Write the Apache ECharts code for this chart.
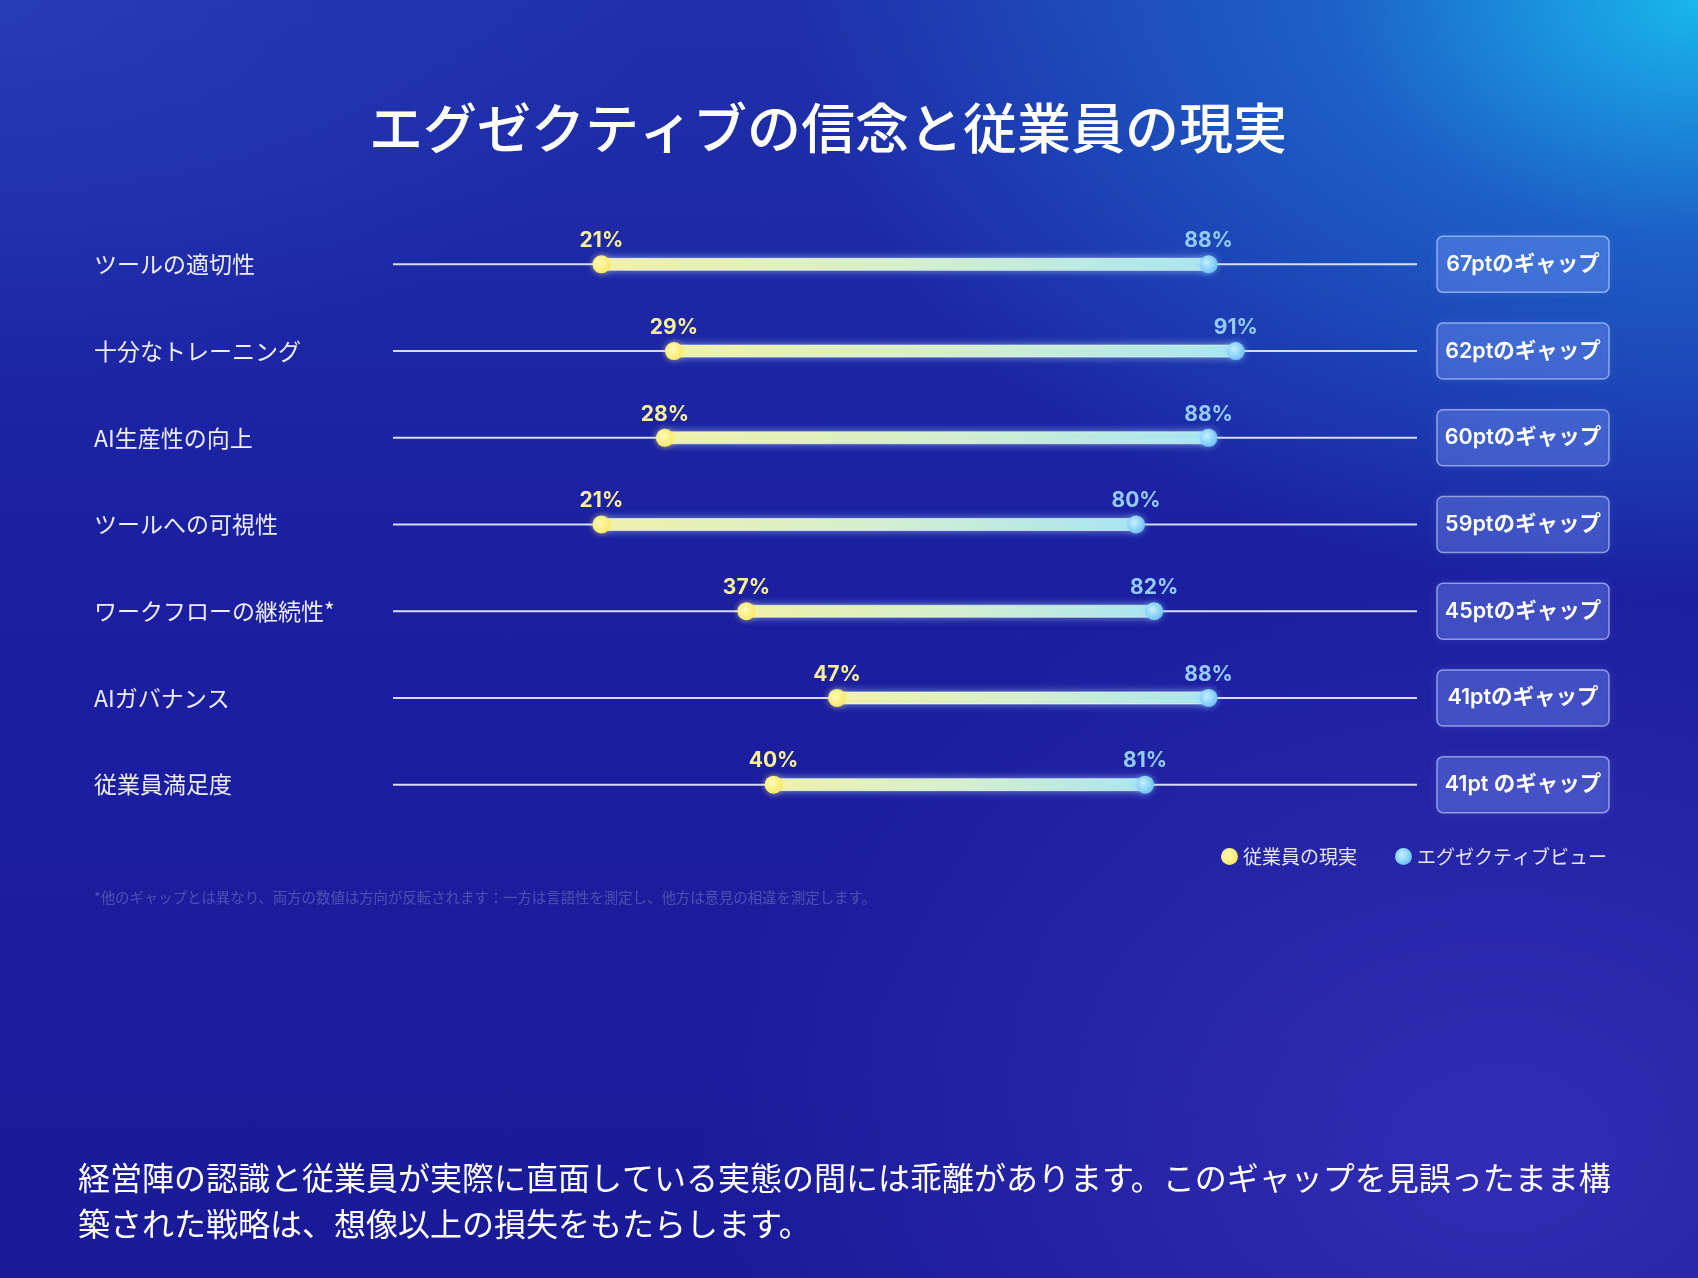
<!DOCTYPE html>
<html>
<head>
<meta charset="utf-8">
<script src="https://cdn.jsdelivr.net/npm/echarts@6/dist/echarts.min.js"></script>
<style>
  html, body { margin: 0; padding: 0; width: 1698px; height: 1278px; overflow: hidden; }
  body {
    background-color: #1b1d9f;
    background-image:
      radial-gradient(ellipse 900px 600px at 1698px 0px, rgba(24,190,240,0.95) 0%, rgba(28,130,220,0.6) 40%, rgba(27,29,159,0) 100%),
      radial-gradient(ellipse 650px 380px at 0px 0px, rgba(45,70,190,0.55) 0%, rgba(27,29,159,0) 100%),
      radial-gradient(ellipse 800px 600px at 1500px 1150px, rgba(70,60,200,0.55) 0%, rgba(27,29,159,0) 100%),
      linear-gradient(180deg, #1f30aa 0%, #1b1fa0 45%, #1a1a98 100%);
  }
  #chart { width: 1698px; height: 1278px; }
</style>
</head>
<body>
<div id="chart"></div>
<script>
const categories = ['ツールの適切性', '十分なトレーニング', 'AI生産性の向上', 'ツールへの可視性', 'ワークフローの継続性*', 'AIガバナンス', '従業員満足度'];
const employeeReality = [21, 29, 28, 21, 37, 47, 40];
const executiveView = [88, 91, 88, 80, 82, 88, 81];
const gapLabels = ['67ptのギャップ', '62ptのギャップ', '60ptのギャップ', '59ptのギャップ', '45ptのギャップ', '41ptのギャップ', '41pt のギャップ'];
const seriesNames = ['従業員の現実', 'エグゼクティブビュー'];
const titleText = 'エグゼクティブの信念と従業員の現実';
const footnoteText = '*他のギャップとは異なり、両方の数値は方向が反転されます：一方は言語性を測定し、他方は意見の相違を測定します。';
const summaryText = '経営陣の認識と従業員が実際に直面している実態の間には乖離があります。このギャップを見誤ったまま構\n築された戦略は、想像以上の損失をもたらします。';

const X_MIN = -2, X_MAX = 111;
const CJK = '"Noto Sans CJK JP", "Noto Sans", sans-serif';
const NUM = 'Inter, "Noto Sans CJK JP", sans-serif';

const chart = echarts.init(document.getElementById('chart'), null, { renderer: 'canvas' });

function renderRow(params, api) {
  const i = api.value(0);
  const lo = api.value(1), hi = api.value(2);
  const a = api.coord([lo, i]);
  const b = api.coord([hi, i]);
  const s = api.coord([X_MIN, i]);
  const e = api.coord([X_MAX, i]);
  const cs = params.coordSys;
  const y = a[1];
  const boxX = cs.x + cs.width + 20, boxW = 172, boxH = 56;
  return {
    type: 'group',
    children: [
      { type: 'line', shape: { x1: s[0], y1: y, x2: e[0], y2: y },
        style: { stroke: 'rgba(235,240,255,0.9)', lineWidth: 2 } },
      { type: 'rect', shape: { x: a[0], y: y - 6, width: b[0] - a[0], height: 12, r: 6 },
        style: {
          fill: new echarts.graphic.LinearGradient(0, 0, 1, 0, [
            { offset: 0, color: '#f1f2a8' },
            { offset: 0.5, color: '#d6f0cc' },
            { offset: 1, color: '#a9e6f2' }
          ]),
          stroke: 'rgba(255,255,255,0.55)', lineWidth: 1,
          shadowBlur: 8, shadowColor: 'rgba(190,240,255,0.55)'
        } },
      { type: 'rect', shape: { x: boxX, y: y - boxH / 2, width: boxW, height: boxH, r: 6 },
        style: {
          fill: 'rgba(130,160,255,0.28)',
          stroke: 'rgba(205,220,255,0.6)', lineWidth: 1.5,
          shadowBlur: 10, shadowColor: 'rgba(150,180,255,0.35)'
        } },
      { type: 'text', x: boxX + boxW / 2, y: y,
        style: { text: gapLabels[i], fill: '#ffffff', font: '600 21.5px ' + NUM,
          align: 'center', verticalAlign: 'middle' } }
    ]
  };
}

const option = {
  animation: false,
  backgroundColor: 'transparent',
  title: {
    text: titleText, left: 364, top: 96,
    textStyle: { color: '#ffffff', fontSize: 54, fontWeight: 500, fontFamily: CJK }
  },
  legend: {
    data: seriesNames.map(n => ({ name: n, icon: 'circle' })),
    right: 86, top: 842, itemWidth: 17, itemHeight: 17, itemGap: 38,
    textStyle: { color: 'rgba(255,255,255,0.88)', fontSize: 19, fontFamily: CJK }
  },
  grid: { left: 393, right: 281, top: 221, height: 607 },
  xAxis: { type: 'value', min: X_MIN, max: X_MAX, show: false },
  yAxis: {
    type: 'category', data: categories, inverse: true,
    axisLine: { show: false }, axisTick: { show: false }, splitLine: { show: false },
    axisLabel: { align: 'left', margin: 299, color: 'rgba(255,255,255,0.92)', fontSize: 23, fontFamily: CJK, padding: [0, 0, 4, 0] }
  },
  series: [
    {
      type: 'custom', name: 'gap', z: 2, silent: true,
      renderItem: renderRow,
      encode: { x: [1, 2], y: 0 },
      data: categories.map((c, i) => [i, employeeReality[i], executiveView[i]])
    },
    {
      type: 'scatter', name: seriesNames[0], z: 4, symbolSize: 18,
      data: employeeReality.map((v, i) => [v, i]),
      itemStyle: {
        opacity: 1,
        color: new echarts.graphic.RadialGradient(0.4, 0.4, 0.7, [
          { offset: 0, color: '#fffbb8' }, { offset: 1, color: '#f6e65e' }
        ]),
        shadowBlur: 6, shadowColor: 'rgba(255,240,120,0.6)'
      },
      label: {
        show: true, position: 'top', distance: 4,
        formatter: p => p.value[0] + '%',
        color: '#f8f096', fontSize: 21, fontWeight: 'bold', fontFamily: NUM
      }
    },
    {
      type: 'scatter', name: seriesNames[1], z: 4, symbolSize: 18,
      data: executiveView.map((v, i) => [v, i]),
      itemStyle: {
        opacity: 1,
        color: new echarts.graphic.RadialGradient(0.4, 0.4, 0.7, [
          { offset: 0, color: '#c4f0ff' }, { offset: 1, color: '#62bcf5' }
        ]),
        shadowBlur: 6, shadowColor: 'rgba(140,210,255,0.6)'
      },
      label: {
        show: true, position: 'top', distance: 4,
        formatter: p => p.value[0] + '%',
        color: '#94ccf4', fontSize: 21, fontWeight: 'bold', fontFamily: NUM
      }
    }
  ],
  graphic: [
    { type: 'text', left: 94, top: 890,
      style: { text: footnoteText, fill: 'rgba(255,255,255,0.22)', font: '14.4px ' + CJK } },
    { type: 'text', left: 78, top: 1155,
      style: { text: summaryText, fill: '#ffffff', font: '32px ' + CJK, lineHeight: 46 } }
  ]
};
chart.setOption(option);
</script>
</body>
</html>
